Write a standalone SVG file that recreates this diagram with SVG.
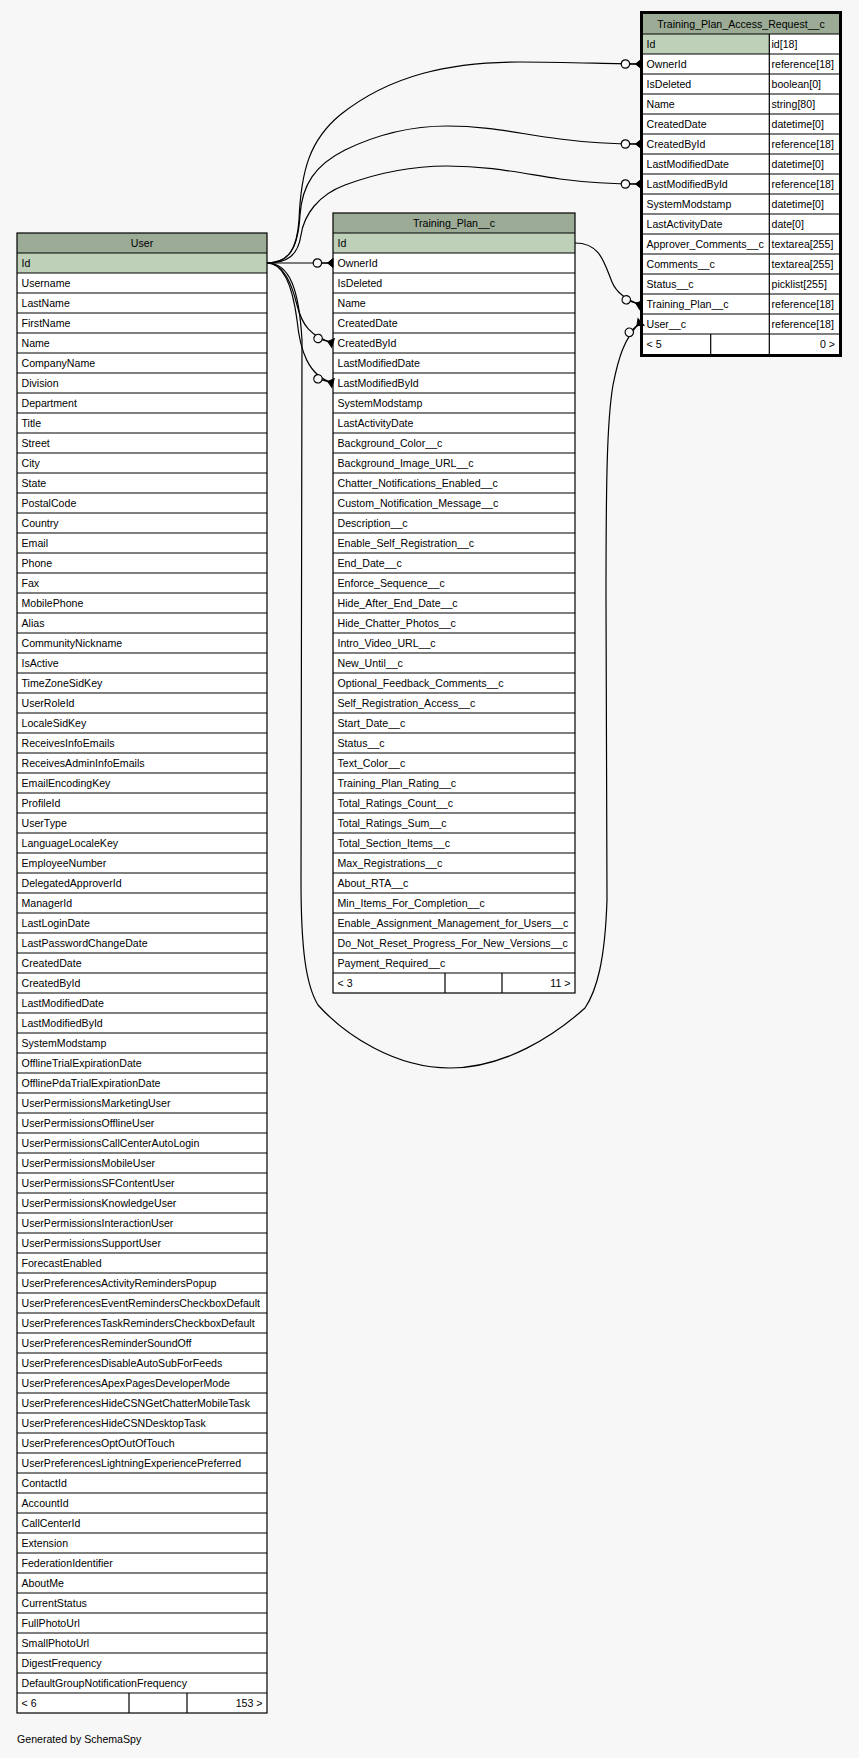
<svg xmlns="http://www.w3.org/2000/svg" width="859" height="1758" viewBox="0 0 859 1758">
<style>
.t{font-family:"Liberation Sans",Arial,Helvetica,sans-serif;font-size:10.6px;fill:#000}
.c{text-anchor:middle}
.e{text-anchor:end}
.hd{fill:#9bab96}
.pk{fill:#bed1b8}
.ln{fill:none;stroke:#000;stroke-width:1.2}
.edge{fill:none;stroke:#000;stroke-width:1.2;marker-end:url(#crow)}
</style>
<defs>
<marker id="crow" markerUnits="userSpaceOnUse" viewBox="-22 -7 24 14" refX="0" refY="0" markerWidth="24" markerHeight="14" orient="auto" overflow="visible">
<path d="M0,0 L-11.5,0" stroke="#000" stroke-width="1.2" fill="none"/>
<path d="M0,-4.5 L-5.5,0 L0,4.5 Z" fill="#000" stroke="#000" stroke-width="1"/>
<circle cx="-15.6" cy="0" r="4.2" fill="#f7f7f7" stroke="#000" stroke-width="1.2"/>
</marker>
</defs>
<rect x="0" y="0" width="859" height="1758" fill="#f7f7f7"/>

<g id="User">
<rect x="17" y="233" width="250" height="1480" fill="#fff"/>
<rect x="17" y="233" width="250" height="20" class="hd"/>
<rect x="17" y="253" width="250" height="20" class="pk"/>
<path class="ln" d="M17 253H267M17 273H267M17 293H267M17 313H267M17 333H267M17 353H267M17 373H267M17 393H267M17 413H267M17 433H267M17 453H267M17 473H267M17 493H267M17 513H267M17 533H267M17 553H267M17 573H267M17 593H267M17 613H267M17 633H267M17 653H267M17 673H267M17 693H267M17 713H267M17 733H267M17 753H267M17 773H267M17 793H267M17 813H267M17 833H267M17 853H267M17 873H267M17 893H267M17 913H267M17 933H267M17 953H267M17 973H267M17 993H267M17 1013H267M17 1033H267M17 1053H267M17 1073H267M17 1093H267M17 1113H267M17 1133H267M17 1153H267M17 1173H267M17 1193H267M17 1213H267M17 1233H267M17 1253H267M17 1273H267M17 1293H267M17 1313H267M17 1333H267M17 1353H267M17 1373H267M17 1393H267M17 1413H267M17 1433H267M17 1453H267M17 1473H267M17 1493H267M17 1513H267M17 1533H267M17 1553H267M17 1573H267M17 1593H267M17 1613H267M17 1633H267M17 1653H267M17 1673H267M17 1693H267M129 1693V1713M187 1693V1713"/>
<rect x="17" y="233" width="250" height="1480" class="ln"/>
<text class="t c" x="142" y="247">User</text>
<text class="t" x="21.5" y="267">Id</text>
<text class="t" x="21.5" y="287">Username</text>
<text class="t" x="21.5" y="307">LastName</text>
<text class="t" x="21.5" y="327">FirstName</text>
<text class="t" x="21.5" y="347">Name</text>
<text class="t" x="21.5" y="367">CompanyName</text>
<text class="t" x="21.5" y="387">Division</text>
<text class="t" x="21.5" y="407">Department</text>
<text class="t" x="21.5" y="427">Title</text>
<text class="t" x="21.5" y="447">Street</text>
<text class="t" x="21.5" y="467">City</text>
<text class="t" x="21.5" y="487">State</text>
<text class="t" x="21.5" y="507">PostalCode</text>
<text class="t" x="21.5" y="527">Country</text>
<text class="t" x="21.5" y="547">Email</text>
<text class="t" x="21.5" y="567">Phone</text>
<text class="t" x="21.5" y="587">Fax</text>
<text class="t" x="21.5" y="607">MobilePhone</text>
<text class="t" x="21.5" y="627">Alias</text>
<text class="t" x="21.5" y="647">CommunityNickname</text>
<text class="t" x="21.5" y="667">IsActive</text>
<text class="t" x="21.5" y="687">TimeZoneSidKey</text>
<text class="t" x="21.5" y="707">UserRoleId</text>
<text class="t" x="21.5" y="727">LocaleSidKey</text>
<text class="t" x="21.5" y="747">ReceivesInfoEmails</text>
<text class="t" x="21.5" y="767">ReceivesAdminInfoEmails</text>
<text class="t" x="21.5" y="787">EmailEncodingKey</text>
<text class="t" x="21.5" y="807">ProfileId</text>
<text class="t" x="21.5" y="827">UserType</text>
<text class="t" x="21.5" y="847">LanguageLocaleKey</text>
<text class="t" x="21.5" y="867">EmployeeNumber</text>
<text class="t" x="21.5" y="887">DelegatedApproverId</text>
<text class="t" x="21.5" y="907">ManagerId</text>
<text class="t" x="21.5" y="927">LastLoginDate</text>
<text class="t" x="21.5" y="947">LastPasswordChangeDate</text>
<text class="t" x="21.5" y="967">CreatedDate</text>
<text class="t" x="21.5" y="987">CreatedById</text>
<text class="t" x="21.5" y="1007">LastModifiedDate</text>
<text class="t" x="21.5" y="1027">LastModifiedById</text>
<text class="t" x="21.5" y="1047">SystemModstamp</text>
<text class="t" x="21.5" y="1067">OfflineTrialExpirationDate</text>
<text class="t" x="21.5" y="1087">OfflinePdaTrialExpirationDate</text>
<text class="t" x="21.5" y="1107">UserPermissionsMarketingUser</text>
<text class="t" x="21.5" y="1127">UserPermissionsOfflineUser</text>
<text class="t" x="21.5" y="1147">UserPermissionsCallCenterAutoLogin</text>
<text class="t" x="21.5" y="1167">UserPermissionsMobileUser</text>
<text class="t" x="21.5" y="1187">UserPermissionsSFContentUser</text>
<text class="t" x="21.5" y="1207">UserPermissionsKnowledgeUser</text>
<text class="t" x="21.5" y="1227">UserPermissionsInteractionUser</text>
<text class="t" x="21.5" y="1247">UserPermissionsSupportUser</text>
<text class="t" x="21.5" y="1267">ForecastEnabled</text>
<text class="t" x="21.5" y="1287">UserPreferencesActivityRemindersPopup</text>
<text class="t" x="21.5" y="1307">UserPreferencesEventRemindersCheckboxDefault</text>
<text class="t" x="21.5" y="1327">UserPreferencesTaskRemindersCheckboxDefault</text>
<text class="t" x="21.5" y="1347">UserPreferencesReminderSoundOff</text>
<text class="t" x="21.5" y="1367">UserPreferencesDisableAutoSubForFeeds</text>
<text class="t" x="21.5" y="1387">UserPreferencesApexPagesDeveloperMode</text>
<text class="t" x="21.5" y="1407">UserPreferencesHideCSNGetChatterMobileTask</text>
<text class="t" x="21.5" y="1427">UserPreferencesHideCSNDesktopTask</text>
<text class="t" x="21.5" y="1447">UserPreferencesOptOutOfTouch</text>
<text class="t" x="21.5" y="1467">UserPreferencesLightningExperiencePreferred</text>
<text class="t" x="21.5" y="1487">ContactId</text>
<text class="t" x="21.5" y="1507">AccountId</text>
<text class="t" x="21.5" y="1527">CallCenterId</text>
<text class="t" x="21.5" y="1547">Extension</text>
<text class="t" x="21.5" y="1567">FederationIdentifier</text>
<text class="t" x="21.5" y="1587">AboutMe</text>
<text class="t" x="21.5" y="1607">CurrentStatus</text>
<text class="t" x="21.5" y="1627">FullPhotoUrl</text>
<text class="t" x="21.5" y="1647">SmallPhotoUrl</text>
<text class="t" x="21.5" y="1667">DigestFrequency</text>
<text class="t" x="21.5" y="1687">DefaultGroupNotificationFrequency</text>
<text class="t" x="21.5" y="1707">&lt; 6</text>
<text class="t e" x="262.5" y="1707">153 &gt;</text>
</g>

<g id="Training_Plan__c">
<rect x="333" y="213" width="242" height="780" fill="#fff"/>
<rect x="333" y="213" width="242" height="20" class="hd"/>
<rect x="333" y="233" width="242" height="20" class="pk"/>
<path class="ln" d="M333 233H575M333 253H575M333 273H575M333 293H575M333 313H575M333 333H575M333 353H575M333 373H575M333 393H575M333 413H575M333 433H575M333 453H575M333 473H575M333 493H575M333 513H575M333 533H575M333 553H575M333 573H575M333 593H575M333 613H575M333 633H575M333 653H575M333 673H575M333 693H575M333 713H575M333 733H575M333 753H575M333 773H575M333 793H575M333 813H575M333 833H575M333 853H575M333 873H575M333 893H575M333 913H575M333 933H575M333 953H575M333 973H575M445 973V993M502 973V993"/>
<rect x="333" y="213" width="242" height="780" class="ln"/>
<text class="t c" x="454" y="227">Training_Plan__c</text>
<text class="t" x="337.5" y="247">Id</text>
<text class="t" x="337.5" y="267">OwnerId</text>
<text class="t" x="337.5" y="287">IsDeleted</text>
<text class="t" x="337.5" y="307">Name</text>
<text class="t" x="337.5" y="327">CreatedDate</text>
<text class="t" x="337.5" y="347">CreatedById</text>
<text class="t" x="337.5" y="367">LastModifiedDate</text>
<text class="t" x="337.5" y="387">LastModifiedById</text>
<text class="t" x="337.5" y="407">SystemModstamp</text>
<text class="t" x="337.5" y="427">LastActivityDate</text>
<text class="t" x="337.5" y="447">Background_Color__c</text>
<text class="t" x="337.5" y="467">Background_Image_URL__c</text>
<text class="t" x="337.5" y="487">Chatter_Notifications_Enabled__c</text>
<text class="t" x="337.5" y="507">Custom_Notification_Message__c</text>
<text class="t" x="337.5" y="527">Description__c</text>
<text class="t" x="337.5" y="547">Enable_Self_Registration__c</text>
<text class="t" x="337.5" y="567">End_Date__c</text>
<text class="t" x="337.5" y="587">Enforce_Sequence__c</text>
<text class="t" x="337.5" y="607">Hide_After_End_Date__c</text>
<text class="t" x="337.5" y="627">Hide_Chatter_Photos__c</text>
<text class="t" x="337.5" y="647">Intro_Video_URL__c</text>
<text class="t" x="337.5" y="667">New_Until__c</text>
<text class="t" x="337.5" y="687">Optional_Feedback_Comments__c</text>
<text class="t" x="337.5" y="707">Self_Registration_Access__c</text>
<text class="t" x="337.5" y="727">Start_Date__c</text>
<text class="t" x="337.5" y="747">Status__c</text>
<text class="t" x="337.5" y="767">Text_Color__c</text>
<text class="t" x="337.5" y="787">Training_Plan_Rating__c</text>
<text class="t" x="337.5" y="807">Total_Ratings_Count__c</text>
<text class="t" x="337.5" y="827">Total_Ratings_Sum__c</text>
<text class="t" x="337.5" y="847">Total_Section_Items__c</text>
<text class="t" x="337.5" y="867">Max_Registrations__c</text>
<text class="t" x="337.5" y="887">About_RTA__c</text>
<text class="t" x="337.5" y="907">Min_Items_For_Completion__c</text>
<text class="t" x="337.5" y="927">Enable_Assignment_Management_for_Users__c</text>
<text class="t" x="337.5" y="947">Do_Not_Reset_Progress_For_New_Versions__c</text>
<text class="t" x="337.5" y="967">Payment_Required__c</text>
<text class="t" x="337.5" y="987">&lt; 3</text>
<text class="t e" x="570.5" y="987">11 &gt;</text>
</g>

<g id="Training_Plan_Access_Request__c">
<rect x="643" y="14" width="196" height="340" fill="#fff"/>
<rect x="643" y="14" width="196" height="20" class="hd"/>
<rect x="643" y="34" width="126.3" height="20" class="pk"/>
<path class="ln" d="M643 34H839M643 54H839M643 74H839M643 94H839M643 114H839M643 134H839M643 154H839M643 174H839M643 194H839M643 214H839M643 234H839M643 254H839M643 274H839M643 294H839M643 314H839M643 334H839M769.3 34V354M710.7 334V354"/>
<rect x="641.5" y="12.5" width="199" height="343" fill="none" stroke="#000" stroke-width="3"/>
<text class="t c" x="741" y="28">Training_Plan_Access_Request__c</text>
<text class="t" x="646.5" y="48">Id</text>
<text class="t" x="771.5" y="48">id[18]</text>
<text class="t" x="646.5" y="68">OwnerId</text>
<text class="t" x="771.5" y="68">reference[18]</text>
<text class="t" x="646.5" y="88">IsDeleted</text>
<text class="t" x="771.5" y="88">boolean[0]</text>
<text class="t" x="646.5" y="108">Name</text>
<text class="t" x="771.5" y="108">string[80]</text>
<text class="t" x="646.5" y="128">CreatedDate</text>
<text class="t" x="771.5" y="128">datetime[0]</text>
<text class="t" x="646.5" y="148">CreatedById</text>
<text class="t" x="771.5" y="148">reference[18]</text>
<text class="t" x="646.5" y="168">LastModifiedDate</text>
<text class="t" x="771.5" y="168">datetime[0]</text>
<text class="t" x="646.5" y="188">LastModifiedById</text>
<text class="t" x="771.5" y="188">reference[18]</text>
<text class="t" x="646.5" y="208">SystemModstamp</text>
<text class="t" x="771.5" y="208">datetime[0]</text>
<text class="t" x="646.5" y="228">LastActivityDate</text>
<text class="t" x="771.5" y="228">date[0]</text>
<text class="t" x="646.5" y="248">Approver_Comments__c</text>
<text class="t" x="771.5" y="248">textarea[255]</text>
<text class="t" x="646.5" y="268">Comments__c</text>
<text class="t" x="771.5" y="268">textarea[255]</text>
<text class="t" x="646.5" y="288">Status__c</text>
<text class="t" x="771.5" y="288">picklist[255]</text>
<text class="t" x="646.5" y="308">Training_Plan__c</text>
<text class="t" x="771.5" y="308">reference[18]</text>
<text class="t" x="646.5" y="328">User__c</text>
<text class="t" x="771.5" y="328">reference[18]</text>
<text class="t" x="646.5" y="348">&lt; 5</text>
<text class="t e" x="835" y="348">0 &gt;</text>
</g>

<g id="connectors">
<path class="edge" d="M267,263 L333,263"/>
<path class="edge" d="M267,263 C284,263 292,285 297,305 C302,325 310,336 333,343"/>
<path class="edge" d="M267,263 C285,263 293,290 297,320 C300,350 308,376 333,383"/>
<path class="edge" d="M267,263 C288,263 297,250 299,220 C301,170 310,140 340,115 C390,75 450,62 520,62 C570,62 610,64 641,64"/>
<path class="edge" d="M267,263 C288,263 298,250 300,215 C302,185 315,165 345,150 C380,133 415,126 447,126 C490,126 520,134 560,139 C590,143 620,144 641,144"/>
<path class="edge" d="M267,263 C288,263 298,255 301,235 C304,215 318,195 345,185 C380,172 415,166 447,166 C490,166 520,173 560,179 C590,183 620,184 641,184"/>
<path class="edge" d="M575,243 C600,243 604,262 612,282 C616,292 624,299 641,305"/>
<path class="edge" d="M267,263 C290,263 299,290 302,340 L301,880 C301,950 306,985 318,1005 C345,1035 395,1068 450,1068 C505,1068 555,1035 585,1008 C597,990 605,960 607,900 L606,600 C606,480 607,420 613,385 C618,360 624,337 641,322"/>
</g>

<text class="t" x="17" y="1743">Generated by SchemaSpy</text>
</svg>
